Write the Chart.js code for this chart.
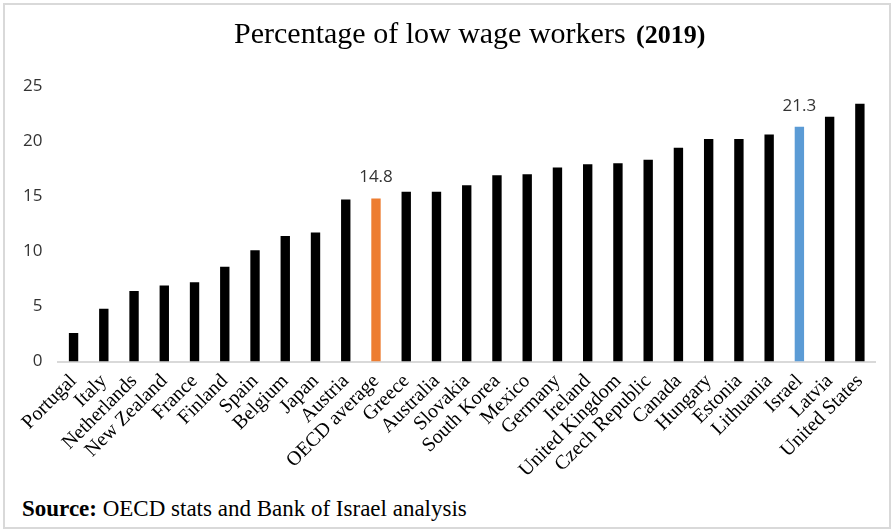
<!DOCTYPE html>
<html>
<head>
<meta charset="utf-8">
<script src="https://cdn.jsdelivr.net/npm/chart.js@4.4.0/dist/chart.umd.min.js"></script>
<style>
    body { margin: 0; background: #fff; }
    .wrap { position: relative; width: 895px; height: 532px; overflow: hidden; }
    .frame { position: absolute; left: 3px; top: 3px; width: 884px; height: 522px; border: 2px solid #d9d9d9; }
    #chart-box { position: absolute; left: 0; top: 0; width: 895px; height: 482px; }
    .source { position: absolute; left: 22px; top: 496px; font-family: "Liberation Serif", serif; font-size: 23px; color: #000; }
</style>
</head>
<body>
<div class="wrap">
    <div class="frame"></div>
    <div id="chart-box"><canvas id="wageChart"></canvas></div>
    <div class="source"><b>Source:</b> OECD stats and Bank of Israel analysis</div>
</div>
<script>
// Data
const countries = ['Portugal', 'Italy', 'Netherlands', 'New Zealand', 'France', 'Finland', 'Spain', 'Belgium',
    'Japan', 'Austria', 'OECD average', 'Greece', 'Australia', 'Slovakia', 'South Korea', 'Mexico', 'Germany',
    'Ireland', 'United Kingdom', 'Czech Republic', 'Canada', 'Hungary', 'Estonia', 'Lithuania', 'Israel',
    'Latvia', 'United States'];
const lowWageShare = [2.6, 4.8, 6.4, 6.9, 7.2, 8.6, 10.1, 11.4, 11.7, 14.7, 14.8, 15.4, 15.4, 16.0, 16.9, 17.0,
    17.6, 17.9, 18.0, 18.3, 19.4, 20.2, 20.2, 20.6, 21.3, 22.2, 23.4];
const yTicks = [0, 5, 10, 15, 20, 25];
const labelled = ['OECD average', 'Israel'];
const titleText = 'Percentage of low wage workers';
const titleYear = '(2019)';

function barColor(name) {
    if (name === 'OECD average') return '#ed7d31';
    if (name === 'Israel') return '#5b9bd5';
    return '#000000';
}

// Title centred over the plot, year in a bolder face
const chartTitle = {
    id: 'chartTitle',
    afterDraw(chart) {
        const ctx = chart.ctx;
        const area = chart.chartArea;
        const f1 = '30px "Liberation Serif", serif';
        const f2 = 'bold 26px "Liberation Serif", serif';
        ctx.save();
        ctx.font = f1;
        const w1 = ctx.measureText(titleText + ' ').width + 3;
        ctx.font = f2;
        const w2 = ctx.measureText(titleYear).width;
        const x0 = (area.left + area.right) / 2 + 3 - (w1 + w2) / 2;
        ctx.fillStyle = '#000';
        ctx.textAlign = 'left';
        ctx.textBaseline = 'alphabetic';
        ctx.font = f1;
        ctx.fillText(titleText, x0, 43);
        ctx.font = f2;
        ctx.fillText(titleYear, x0 + w1, 43);
        ctx.restore();
    }
};

// Value labels above the highlighted bars
const valueLabels = {
    id: 'valueLabels',
    afterDatasetsDraw(chart) {
        const ctx = chart.ctx;
        const meta = chart.getDatasetMeta(0);
        ctx.save();
        ctx.font = '17px "Open Sans", sans-serif';
        ctx.fillStyle = '#333';
        ctx.textAlign = 'center';
        ctx.textBaseline = 'alphabetic';
        countries.forEach((c, i) => {
            if (!labelled.includes(c)) return;
            const bar = meta.data[i];
            ctx.fillText(lowWageShare[i].toFixed(1), bar.x, bar.y - 16);
        });
        ctx.restore();
    }
};

const ctx = document.getElementById('wageChart').getContext('2d');
new Chart(ctx, {
    type: 'bar',
    data: {
        labels: countries,
        datasets: [{
            data: lowWageShare,
            backgroundColor: countries.map(barColor),
            barPercentage: 0.62,
            categoryPercentage: 0.5
        }]
    },
    options: {
        responsive: true,
        maintainAspectRatio: false,
        animation: false,
        layout: { padding: { left: 6, right: 20, top: 86, bottom: 0 } },
        plugins: {
            legend: { display: false },
            tooltip: { enabled: false },
            title: { display: false }
        },
        scales: {
            x: {
                grid: { display: false },
                border: { color: '#d9d9d9', width: 2 },
                ticks: {
                    color: '#000',
                    font: { family: '"Liberation Serif", serif', size: 20 },
                    minRotation: 45,
                    maxRotation: 45,
                    autoSkip: false,
                    padding: 0
                }
            },
            y: {
                min: 0,
                max: 25,
                afterBuildTicks(axis) { axis.ticks = yTicks.map(v => ({ value: v })); },
                afterFit(axis) { axis.width += 9; },
                grid: { display: false },
                border: { display: false },
                ticks: {
                    color: '#333',
                    font: { family: '"Open Sans", sans-serif', size: 17 },
                    padding: 8
                }
            }
        }
    },
    plugins: [valueLabels, chartTitle]
});
</script>
</body>
</html>
